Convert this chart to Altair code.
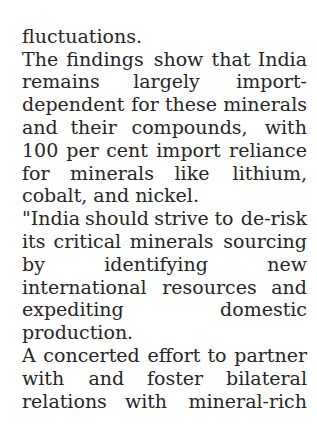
import altair as alt
import pandas as pd

# Lines of the text column
LINES = [
    "fluctuations.",
    "The findings show that India",
    "remains largely import-",
    "dependent for these minerals",
    "and their compounds, with",
    "100 per cent import reliance",
    "for minerals like lithium,",
    "cobalt, and nickel.",
    "\"India should strive to de-risk",
    "its critical minerals sourcing",
    "by identifying new",
    "international resources and",
    "expediting domestic",
    "production.",
    "A concerted effort to partner",
    "with and foster bilateral",
    "relations with mineral-rich",
]

# Whether each line is justified (flush to both column edges)
JUSTIFY = [False, True, True, True, True, True, True, False,
           True, True, True, True, True, False, True, True, True]

# Estimated centres of the inner words of each justified line (page px)
MID_CENTERS = [
    [], [105, 178.5, 231], [166.5], [145, 191], [93.6, 189.6],
    [82.5, 127, 188.5], [112, 192], [], [117, 181.5, 224], [87.3, 171.7],
    [156], [209.5], [], [], [91.5, 174, 217], [106.4, 175], [146],
]

# Column edges (page px)
COLUMN_LEFT = 22
COLUMN_RIGHT = 307

rows = []
for i, (line, just, mids) in enumerate(zip(LINES, JUSTIFY, MID_CENTERS), start=1):
    if not just:
        rows.append({"line": i, "text": line, "x": COLUMN_LEFT, "anchor": "left"})
        continue
    words = line.split(" ")
    rows.append({"line": i, "text": words[0], "x": COLUMN_LEFT, "anchor": "left"})
    for w, cx in zip(words[1:-1], mids):
        rows.append({"line": i, "text": w, "x": cx, "anchor": "center"})
    rows.append({"line": i, "text": words[-1], "x": COLUMN_RIGHT, "anchor": "right"})

df = pd.DataFrame(rows)

base = alt.Chart(df).encode(
    x=alt.X("x:Q", axis=None, scale=alt.Scale(domain=[8, 309], nice=False, zero=False)),
    y=alt.Y("line:Q", axis=None,
            scale=alt.Scale(domain=[1, 17], range=[34.7, 399.5], nice=False, zero=False)),
    text="text:N",
)

layers = [
    base.transform_filter(alt.datum.anchor == a).mark_text(
        align=a, baseline="alphabetic", font="DejaVu Serif", fontSize=19, color="#262626"
    )
    for a in ["left", "center", "right"]
]

chart = alt.layer(*layers).properties(
    width=301, height=418, padding=0, autosize=alt.AutoSizeParams(type="none")
).configure_view(stroke=None)

chart.save("out.html", embed_options={"renderer": "svg", "actions": False})
